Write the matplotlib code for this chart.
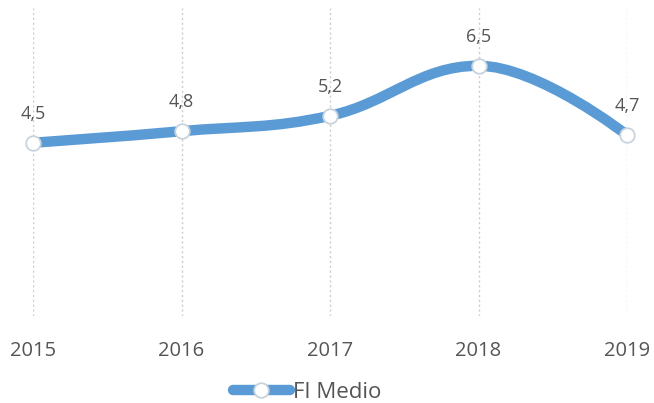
import matplotlib
matplotlib.use("Agg")
import matplotlib.pyplot as plt
from matplotlib.path import Path
from matplotlib.patches import PathPatch
from matplotlib.lines import Line2D

years = [2015, 2016, 2017, 2018, 2019]
values = [4.5, 4.8, 5.2, 6.5, 4.7]
labels = ["4,5", "4,8", "5,2", "6,5", "4,7"]
series_name = "FI Medio"

LINE_COLOR = "#5b9bd5"
TEXT_COLOR = "#555555"
FONT = ["Open Sans", "DejaVu Sans"]

plt.rcParams['font.family'] = FONT

fig = plt.figure(figsize=(6.54, 4.03), dpi=100)
ax = fig.add_axes([33/654, 87/403, (627-33)/654, (316-8)/403])
ax.set_xlim(years[0], years[-1])
ax.set_ylim(0, 8)

# Highcharts-style spline control points
def spline_path(xs, ys, smoothing=1.5):
    n = len(xs)
    lc = [None]*n
    rc = [None]*n
    denom = smoothing + 1
    for i in range(1, n-1):
        px, py = xs[i], ys[i]
        lx, ly = xs[i-1], ys[i-1]
        nx, ny = xs[i+1], ys[i+1]
        lcx = (smoothing*px + lx)/denom
        lcy = (smoothing*py + ly)/denom
        rcx = (smoothing*px + nx)/denom
        rcy = (smoothing*py + ny)/denom
        corr = ((rcy - lcy)*(rcx - px))/(rcx - lcx) + py - rcy
        lcy += corr
        rcy += corr
        if lcy > max(ly, py):
            lcy = max(ly, py); rcy = 2*py - lcy
        elif lcy < min(ly, py):
            lcy = min(ly, py); rcy = 2*py - lcy
        if rcy > max(py, ny):
            rcy = max(py, ny); lcy = 2*py - rcy
        elif rcy < min(py, ny):
            rcy = min(py, ny); lcy = 2*py - rcy
        lc[i] = (lcx, lcy)
        rc[i] = (rcx, rcy)
    verts = [(xs[0], ys[0])]
    codes = [Path.MOVETO]
    for i in range(1, n):
        c1 = rc[i-1] if rc[i-1] is not None else (xs[i-1], ys[i-1])
        c2 = lc[i] if lc[i] is not None else (xs[i], ys[i])
        verts += [c1, c2, (xs[i], ys[i])]
        codes += [Path.CURVE4]*3
    return Path(verts, codes)

# gridlines
for x in years:
    ax.axvline(x, color="#cccccc", lw=1, ls=(0, (1.5, 2)), zorder=0)

path = spline_path(years, values)
patch = PathPatch(path, facecolor="none", edgecolor=LINE_COLOR, lw=7.5,
                  capstyle="round", joinstyle="round", clip_on=False, zorder=2)
ax.add_patch(patch)

ax.plot(years, values, ls="none", marker="o", ms=10.5, mfc="white",
        mec="#c8d3dd", mew=1.3, clip_on=False, zorder=3)

for x, v, t in zip(years, values, labels):
    ax.annotate(t, (x, v), xytext=(0, 14.5), textcoords="offset points",
                ha="center", va="bottom", fontsize=13, color=TEXT_COLOR)

ax.set_xticks(years)
ax.set_xticklabels([str(y) for y in years], fontsize=14.5, color=TEXT_COLOR)
ax.tick_params(axis="x", length=0, pad=18)
ax.set_yticks([])
for s in ax.spines.values():
    s.set_visible(False)

handle = Line2D([], [], color=LINE_COLOR, lw=7.5, marker="o", ms=10.5,
                mfc="white", mec="#c8d3dd", mew=1.3, solid_capstyle="round")
fig.legend([handle], [series_name], loc="center", bbox_to_anchor=(307/654, 1-392/403),
           frameon=False, fontsize=16, labelcolor=TEXT_COLOR,
           handlelength=2.6, handletextpad=0.12)

fig.savefig("out.png", dpi=100)
